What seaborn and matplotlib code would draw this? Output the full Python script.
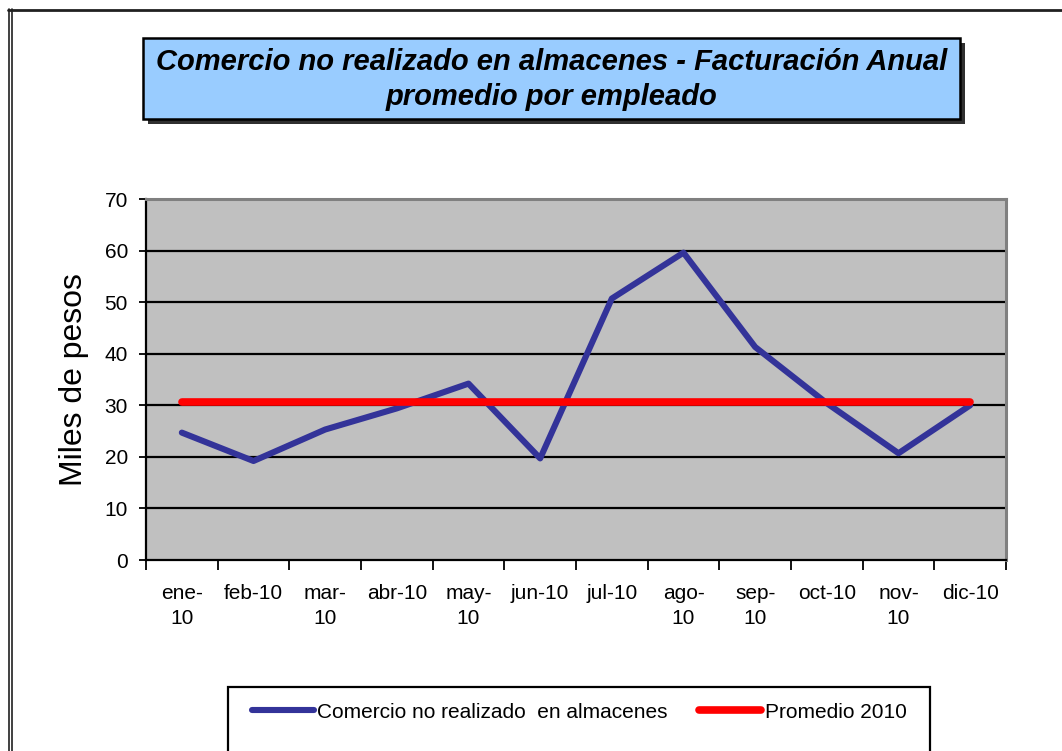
import matplotlib
matplotlib.use("Agg")
import matplotlib.pyplot as plt
from matplotlib.patches import Rectangle
from matplotlib.lines import Line2D
import seaborn as sns
import pandas as pd

# Monthly data
months = ["ene-\n10", "feb-10", "mar-\n10", "abr-10", "may-\n10", "jun-10",
          "jul-10", "ago-\n10", "sep-\n10", "oct-10", "nov-\n10", "dic-10"]
comercio = [24.7, 19.2, 25.3, 29.4, 34.2, 19.7, 50.7, 59.6, 41.3, 30.4, 20.7, 30.0]
promedio_2010 = [30.6] * 12
y_ticks = [0, 10, 20, 30, 40, 50, 60, 70]

serie_label = "Comercio no realizado  en almacenes"
prom_label = "Promedio 2010"
title_text = "Comercio no realizado en almacenes - Facturación Anual\npromedio por empleado"

df = pd.DataFrame({
    "pos": list(range(len(months))) * 2,
    "valor": comercio + promedio_2010,
    "serie": [serie_label] * 12 + [prom_label] * 12,
})

sns.set_theme(style="white")
plt.rcParams["font.family"] = ["Liberation Sans", "DejaVu Sans"]
plt.rcParams["text.color"] = "black"
plt.rcParams["axes.labelcolor"] = "black"
plt.rcParams["xtick.color"] = "black"
plt.rcParams["ytick.color"] = "black"

W, H = 1062, 751
fig = plt.figure(figsize=(W / 100, H / 100), dpi=100)


def fx(px):
    return px / W


def fy(py):
    return 1 - py / H


# axes area in pixel coordinates
ax_l, ax_r, ax_t, ax_b = 146, 1006, 199, 560
ax = fig.add_axes([fx(ax_l), fy(ax_b), fx(ax_r - ax_l), (ax_b - ax_t) / H])
ax.set_facecolor("#C0C0C0")

for yv in y_ticks[1:-1]:
    ax.axhline(yv, color="black", lw=1.6, zorder=1)

palette = {serie_label: "#333399", prom_label: "#FF0000"}
sns.lineplot(data=df[df["serie"] == serie_label], x="pos", y="valor",
             color=palette[serie_label], lw=4.4, ax=ax, legend=False, zorder=3)
sns.lineplot(data=df[df["serie"] == prom_label], x="pos", y="valor",
             color=palette[prom_label], lw=5.5, ax=ax, legend=False, zorder=4,
             solid_capstyle="round")

ax.set_xlim(-0.5, len(months) - 0.5)
ax.set_ylim(0, 70)
ax.set_yticks(y_ticks)
ax.set_yticklabels([str(v) for v in y_ticks])
ax.set_xticks(range(len(months)))
ax.set_xticklabels(months, linespacing=1.45)
ax.set_xticks([i - 0.5 for i in range(len(months) + 1)], minor=True)
ax.tick_params(axis="x", which="major", length=0, pad=17, labelsize=15)
ax.tick_params(axis="x", which="minor", length=7, width=1.3, color="black",
               direction="out", bottom=True)
ax.tick_params(axis="y", which="major", length=5, width=1.3, color="black",
               direction="out", left=True, pad=8, labelsize=15)
ax.set_xlabel("")
ax.set_ylabel("Miles de pesos", fontsize=23, labelpad=11)

for side in ("top", "right"):
    ax.spines[side].set_color("#808080")
    ax.spines[side].set_linewidth(2.2)
for side in ("left", "bottom"):
    ax.spines[side].set_color("black")
    ax.spines[side].set_linewidth(1.6)

# outer chart frame
fig.add_artist(Line2D([fx(8), 1], [fy(9.5), fy(9.5)], transform=fig.transFigure,
                      color="#202020", lw=2.0))
fig.add_artist(Line2D([fx(8.5), fx(8.5)], [fy(9), 0], transform=fig.transFigure,
                      color="#202020", lw=1.2))
fig.add_artist(Line2D([fx(11.5), fx(11.5)], [fy(9), 0], transform=fig.transFigure,
                      color="#202020", lw=1.2))

# title box with drop shadow
bx_l, bx_r, bx_t, bx_b = 143, 960, 38, 119
sh = 5
fig.add_artist(Rectangle((fx(bx_l + sh), fy(bx_b + sh)), fx(bx_r - bx_l), (bx_b - bx_t) / H,
                         transform=fig.transFigure, facecolor="#303030",
                         edgecolor="none", zorder=1))
fig.add_artist(Rectangle((fx(bx_l), fy(bx_b)), fx(bx_r - bx_l), (bx_b - bx_t) / H,
                         transform=fig.transFigure, facecolor="#99CCFF",
                         edgecolor="black", lw=1.8, zorder=2))
fig.text(fx((bx_l + bx_r) / 2), fy((bx_t + bx_b) / 2 + 1), title_text,
         ha="center", va="center", fontsize=21, fontweight="bold",
         fontstyle="italic", linespacing=1.3, zorder=3)

# legend box, running past the lower edge of the figure
lg_l, lg_r, lg_t = 228, 930, 687
fig.add_artist(Rectangle((fx(lg_l), fy(lg_t + 100)), fx(lg_r - lg_l), 100 / H,
                         transform=fig.transFigure, facecolor="white",
                         edgecolor="black", lw=1.6, zorder=1))
handles = [Line2D([], [], color=palette[serie_label], lw=4.4),
           Line2D([], [], color=palette[prom_label], lw=5.5)]
leg = fig.legend(handles, [serie_label, prom_label], loc="center",
                 bbox_to_anchor=(fx((lg_l + lg_r) / 2), fy(712)), ncol=2,
                 fontsize=15, frameon=False, handlelength=3.0,
                 handletextpad=0.15, columnspacing=1.5, borderpad=0,
                 borderaxespad=0)
leg.set_zorder(5)

fig.savefig("out.png", dpi=100, facecolor="white")
